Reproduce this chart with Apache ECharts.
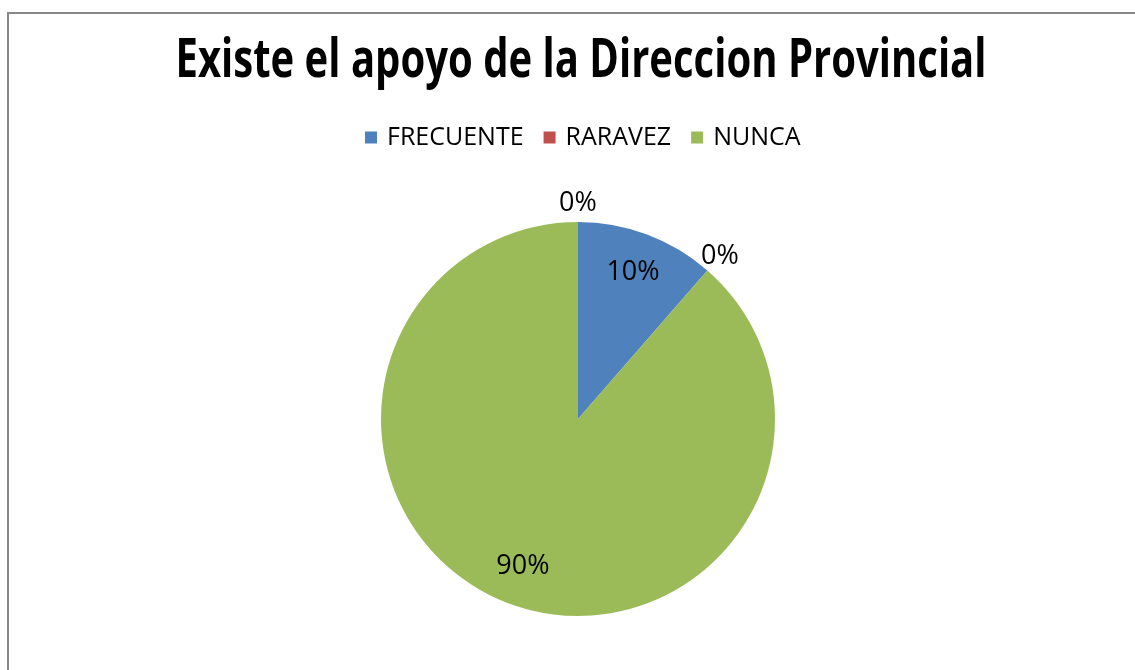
<!DOCTYPE html>
<html><head><meta charset="utf-8">
<script src="https://cdn.jsdelivr.net/npm/echarts@6/dist/echarts.min.js"></script>
<style>html,body{margin:0;padding:0;background:#fff}#c{width:1135px;height:670px}</style>
</head><body><div id="c"></div>
<script>
const titleText = 'Existe el apoyo de la Direccion Provincial';
const categories = ['FRECUENTE', 'RARAVEZ', 'NUNCA', ''];
const sliceValues = [11.4, 0, 88.6, 0];
const percentLabels = ['10%', '0%', '90%', '0%'];
const colors = ['#4F81BD', '#C0504D', '#9BBB59', '#8064A2'];
const legendNames = ['FRECUENTE', 'RARAVEZ', 'NUNCA'];

const titleFont = 'bold 53px "Open Sans"';
const mctx = document.createElement('canvas').getContext('2d');
mctx.font = titleFont;
const titleScale = 811 / mctx.measureText(titleText).width;

const center = [578, 419];
const labelFont = { fontFamily: 'Open Sans', fontSize: 27, color: '#000' };

function labelSeries(radius, showFn) {
  return {
    type: 'pie', silent: true, z: 5, center: center, radius: [0, radius],
    avoidLabelOverlap: false, animation: false,
    itemStyle: { color: 'rgba(0,0,0,0)', borderWidth: 0 },
    labelLine: { show: false },
    emphasis: { disabled: true },
    data: categories.map((n, i) => ({
      name: n, value: sliceValues[i],
      label: { show: showFn(sliceValues[i]) }
    })),
    label: Object.assign({ position: 'inside', formatter: p => percentLabels[p.dataIndex] }, labelFont)
  };
}

const chart = echarts.init(document.getElementById('c'), null, { renderer: 'canvas' });
chart.setOption({
  animation: false,
  backgroundColor: '#fff',
  color: colors,
  graphic: [
    { type: 'rect', shape: { x: 8, y: 13, width: 1300, height: 800 },
      style: { fill: 'none', stroke: '#888', lineWidth: 2 }, silent: true },
    { type: 'text', x: 581, y: 62, scaleX: titleScale,
      style: { text: titleText, font: titleFont, fill: '#000', align: 'center', verticalAlign: 'middle' } }
  ],
  legend: {
    data: legendNames, left: 360, top: 120, orient: 'horizontal',
    itemWidth: 12, itemHeight: 12, itemGap: 20, icon: 'rect',
    textStyle: { fontFamily: 'Open Sans', fontSize: 25, color: '#000', padding: [0, 0, 0, 5] }
  },
  series: [
    {
      type: 'pie', center: center, radius: 197, silent: true,
      label: { show: false }, labelLine: { show: false },
      itemStyle: { borderWidth: 0 },
      emphasis: { disabled: true },
      data: categories.map((n, i) => ({ name: n, value: sliceValues[i], itemStyle: { color: colors[i] } }))
    },
    labelSeries(308, v => v > 0),
    labelSeries(426, v => v === 0)
  ]
});
</script></body></html>
